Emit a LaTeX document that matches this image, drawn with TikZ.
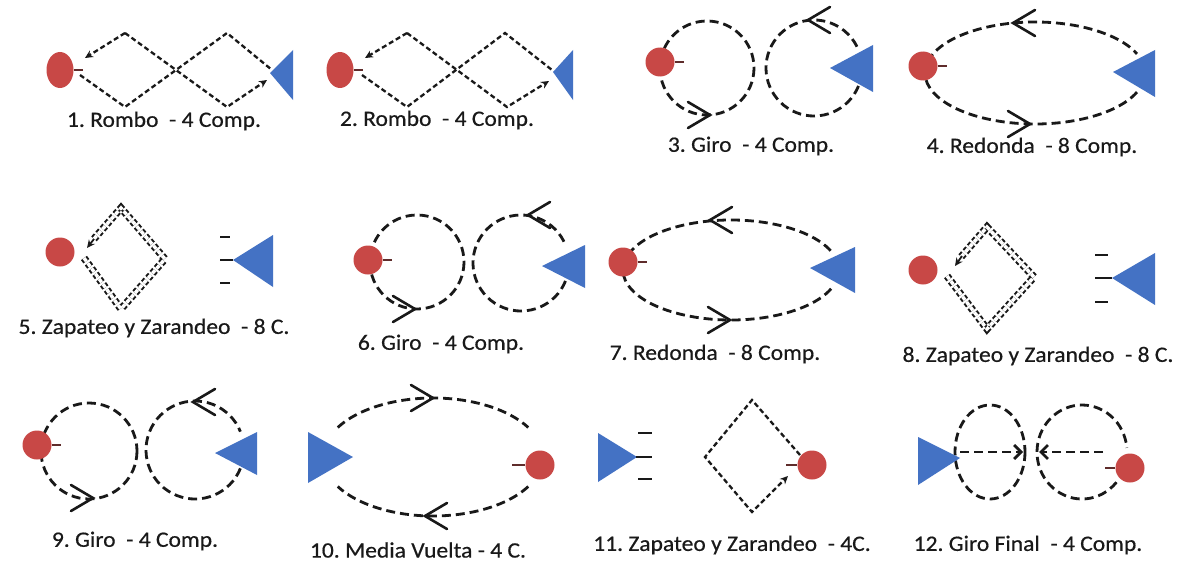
\documentclass[tikz,border=0pt]{standalone}
\usepackage{fontspec}
\setmainfont{Carlito}[FakeStretch=1.07,FakeBold=0.5]
\usetikzlibrary{arrows.meta,calc,shapes.geometric}
\definecolor{dred}{RGB}{200,72,70}
\definecolor{dblue}{RGB}{68,114,196}
\definecolor{ink}{RGB}{25,25,25}
\tikzset{
  fine/.style={ink, line width=2.3pt, dash pattern=on 5pt off 3pt},
  loopline/.style={ink, line width=2.8pt, dash pattern=on 9pt off 5pt},
  dbl/.style={ink, line width=2pt, dash pattern=on 4pt off 2.5pt, double=white, double distance=3.4pt},
  dancer/.style={circle, fill=dred, inner sep=0pt, minimum size=29pt},
  dancerE/.style={ellipse, fill=dred, inner sep=0pt, minimum width=27pt, minimum height=36pt},
  lbl/.style={text=ink, font=\fontsize{22}{26}\selectfont\frenchspacing, inner sep=0pt},
  stub/.style={ink!60!dred, line width=2.2pt},
  sm/.style={-{Stealth[length=8pt,width=7.5pt]}},
  tickline/.style={ink, line width=2.2pt},
  hd/.pic={\draw[ink, line width=2.6pt, line cap=round, solid] (-22,-13) -- (0,0) -- (-22,13);}
}
\begin{document}
\begin{tikzpicture}[x=1pt,y=-1pt]
\useasboundingbox[fill=white] (0,0) rectangle (1183,586);

% ---------- Panel 1
\draw[fine] (80,75) -- (125,107) -- (227,33) -- (272,70);
\draw[fine,sm] (125,33) -- (85,58);
\draw[fine,sm] (125,33) -- (227,107) -- (267,80);
\node[dancerE] (r1) at (60,70) {};
\draw[stub] (r1.east) -- ++(9,0);
\fill[dblue] (270,73) -- (293,50) -- (293,100) -- cycle;
\node[lbl] (l1) at (164,121) {1. Rombo\ \ -\ 4 Comp.};

% ---------- Panel 2
\draw[fine] (362,75) -- (407,107) -- (505,33) -- (552,70);
\draw[fine,sm] (407,33) -- (365,58);
\draw[fine,sm] (407,33) -- (507,107) -- (549,81);
\node[dancerE] (r2) at (340,70) {};
\draw[stub] (r2.east) -- ++(9,0);
\fill[dblue] (553,72) -- (573,50) -- (573,100) -- cycle;
\node[lbl] (l2) at (437,120) {2. Rombo\ \ -\ 4 Comp.};

% ---------- Panel 3
\draw[loopline] (707,68) circle[radius=47];
\draw[loopline] ($(814,68)+(22:48)$) arc[start angle=22, end angle=338, radius=48];
\node[dancer] (r3) at (660,62) {};
\draw[stub] (r3.east) -- ++(9,0);
\fill[dblue] (830,68) -- (873,45) -- (873,92) -- cycle;
\pic at (710,115) {hd};
\pic[rotate=180] at (808,20) {hd};
\node[lbl] (l3) at (751,146) {3. Giro\ \ -\ 4 Comp.};

% ---------- Panel 4
\draw[loopline] ($(1035,73)+(22:110 and 51)$) arc[start angle=22, end angle=338, x radius=110, y radius=51];
\node[dancer] (r4) at (923,66) {};
\draw[stub] (r4.east) -- ++(9,0);
\fill[dblue] (1113,72) -- (1155,50) -- (1155,97) -- cycle;
\pic[rotate=180] at (1013,23) {hd};
\pic at (1030,124) {hd};
\node[lbl] (l4) at (1032,147) {4. Redonda\ \ -\ 8 Comp.};

% ---------- Panel 5
\draw[dbl] (84,258) -- (121,309) -- (165,259) -- (121,208) -- (93,240);
\draw[ink, line width=1.8pt, -{Stealth[length=8pt,width=7.5pt]}] (94,239) -- (87,248);
\node[dancer] (r5) at (60,252) {};
\draw[tickline] (220,237) -- (230,237);
\draw[tickline] (220,260) -- (233,260);
\draw[tickline] (220,283) -- (230,283);
\fill[dblue] (233,260) -- (273,235) -- (273,287) -- cycle;
\node[lbl] (l5) at (154,328) {5. Zapateo y Zarandeo\ \ -\ 8 C.};

% ---------- Panel 6
\draw[loopline] (417,262) circle[radius=47];
\draw[loopline] ($(521,263)+(22:48)$) arc[start angle=22, end angle=338, radius=48];
\node[dancer] (r6) at (368,260) {};
\draw[stub] (r6.east) -- ++(9,0);
\fill[dblue] (542,266) -- (585,245) -- (585,288) -- cycle;
\pic at (415,309) {hd};
\pic[rotate=180] at (528,215) {hd};
\node[lbl] (l6) at (441,344) {6. Giro\ \ -\ 4 Comp.};

% ---------- Panel 7
\draw[loopline] ($(731,270)+(22:108 and 50)$) arc[start angle=22, end angle=338, x radius=108, y radius=50];
\node[dancer] (r7) at (623,262) {};
\draw[stub] (r7.east) -- ++(9,0);
\fill[dblue] (810,268) -- (855,247) -- (855,293) -- cycle;
\pic[rotate=180] at (710,220) {hd};
\pic at (730,320) {hd};
\node[lbl] (l7) at (715,354) {7. Redonda\ \ -\ 8 Comp.};

% ---------- Panel 8
\draw[dbl] (947,276) -- (987,329) -- (1034,277) -- (987,227) -- (961,257);
\draw[ink, line width=1.8pt, -{Stealth[length=8pt,width=7.5pt]}] (962,256) -- (955,266);
\node[dancer] (r8) at (923,270) {};
\draw[tickline] (1095,255) -- (1108,255);
\draw[tickline] (1095,278) -- (1112,278);
\draw[tickline] (1095,302) -- (1108,302);
\fill[dblue] (1112,278) -- (1155,253) -- (1155,305) -- cycle;
\node[lbl] (l8) at (1038,356) {8. Zapateo y Zarandeo\ \ -\ 8 C.};

% ---------- Panel 9
\draw[loopline] (89,451) circle[radius=48];
\draw[loopline] ($(195,450)+(22:49)$) arc[start angle=22, end angle=338, radius=49];
\node[dancer] (r9) at (37,445) {};
\draw[stub] (r9.east) -- ++(9,0);
\fill[dblue] (215,453) -- (257,432) -- (257,475) -- cycle;
\pic at (93,498) {hd};
\pic[rotate=180] at (193,402) {hd};
\node[lbl] (l9) at (135,541) {9. Giro\ \ -\ 4 Comp.};

% ---------- Panel 10
\draw[loopline] ($(433,457)+(30:110 and 59)$) arc[start angle=30, end angle=150, x radius=110, y radius=59];
\draw[loopline] ($(433,457)+(210:110 and 59)$) arc[start angle=210, end angle=330, x radius=110, y radius=59];
\fill[dblue] (308,432) -- (308,483) -- (353,457) -- cycle;
\node[dancer] (r10) at (540,465) {};
\draw[stub] (r10.west) -- ++(-13,0);
\pic at (433,398) {hd};
\pic[rotate=180] at (425,516) {hd};
\node[lbl] (l10) at (418,550) {10. Media Vuelta - 4 C.};

% ---------- Panel 11
\fill[dblue] (598,433) -- (598,482) -- (637,457) -- cycle;
\draw[tickline] (638,433) -- (652,433);
\draw[tickline] (636,457) -- (652,457);
\draw[tickline] (638,479) -- (652,479);
\draw[fine,sm] (800,455) -- (752,400) -- (705,457) -- (752,512) -- (788,476);
\node[dancer] (r11) at (812,465) {};
\draw[stub] (r11.west) -- ++(-11,0);
\node[lbl] (l11) at (732,545) {11. Zapateo y Zarandeo\ \ -\ 4C.};

% ---------- Panel 12
\draw[loopline] (990,452) ellipse[x radius=35, y radius=47];
\draw[loopline] ($(1082,452)+(40:45 and 47)$) arc[start angle=40, end angle=355, x radius=45, y radius=47];
\fill[dblue] (918,437) -- (918,485) -- (960,458) -- cycle;
\draw[loopline, -{Straight Barb[length=7pt,width=14pt]}] (960,452) -- (1023,452);
\draw[loopline, -{Straight Barb[length=7pt,width=14pt]}] (1103,452) -- (1039,452);
\node[dancer] (r12) at (1130,468) {};
\draw[stub] (r12.west) -- ++(-10,0);
\node[lbl] (l12) at (1028,545) {12. Giro Final\ \ -\ 4 Comp.};
\end{tikzpicture}
\end{document}
